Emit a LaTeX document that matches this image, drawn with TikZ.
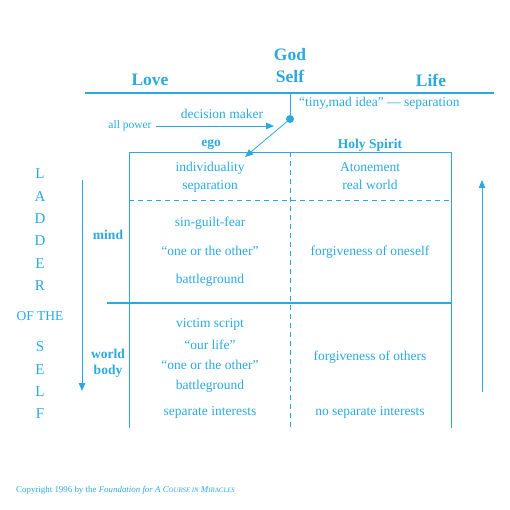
\documentclass[tikz,border=0pt]{standalone}
\usepackage{fontspec}
\setmainfont{Liberation Serif}
\usetikzlibrary{arrows.meta}
\definecolor{ladderBlue}{HTML}{29A9E0}

\begin{document}
\begin{tikzpicture}[
    x=1pt, y=-1pt,
    cell/.style={text=ladderBlue, font=\fontsize{13.5}{15}\selectfont, inner sep=0pt,
                 text height=0.98em, text depth=0.1em},
    head/.style={text=ladderBlue, font=\fontsize{17.5}{19}\selectfont\bfseries, inner sep=0pt},
    tag/.style={text=ladderBlue, font=\fontsize{13.5}{16}\selectfont\bfseries, inner sep=0pt, align=center},
    letter/.style={text=ladderBlue, font=\fontsize{15}{17}\selectfont, inner sep=0pt},
    small/.style={text=ladderBlue, font=\fontsize{11.5}{13}\selectfont, inner sep=0pt},
    rule/.style={draw=ladderBlue, line width=0.9pt},
    dashrule/.style={draw=ladderBlue, line width=0.8pt, dash pattern=on 5pt off 4pt},
    arrow/.style={-{Triangle[length=8pt,width=6.5pt]}, ladderBlue, line width=0.8pt}
  ]
    \useasboundingbox (0,0) rectangle (510,510);

    % top: God / Self and the level of Heaven
    \node[head] (god) at (290,55) {God};
    \node[head] (self) at (290,76) {Self};
    \node[head] (love) at (150,80) {Love};
    \node[head] (life) at (431,80) {Life};
    \draw[rule, line width=1.1pt] (85,93) -- (494,93);
    \coordinate (split) at (290,93);
    \node[cell, anchor=west] (tiny) at (299,102) {``tiny,mad idea'' --- separation};

    % decision maker
    \node[circle, fill=ladderBlue, inner sep=0pt, minimum size=8pt] (dot) at (290,119) {};
    \draw[rule] (split) -- (dot);
    \node[cell] (decision) at (222,114) {decision maker};
    \node[small] (power) at (130,126) {all power};
    \coordinate (powerTip) at (274,126);
    \draw[arrow, shorten <=4pt] (power) -- (powerTip);
    \coordinate (egoTip) at (245,157);
    \draw[arrow] (dot) -- (egoTip);

    % the two columns
    \node[tag] (ego) at (211,145) {ego};
    \node[tag] (spirit) at (370,145) {Holy Spirit};
    \draw[rule] (129,428) -- (129,152) -- (451,152) -- (451,428);
    \draw[dashrule] (290,152) -- (290,428);
    \draw[dashrule] (129,200) -- (451,200);
    \draw[rule, line width=2.4pt] (107,303) -- (451,303);

    % ego column
    \node[cell] (indiv) at (210,167) {individuality};
    \node[cell] (sepa) at (210,185) {separation};
    \node[cell] (sin) at (210,222) {sin-guilt-fear};
    \node[cell] (oneA) at (210,251) {``one or the other''};
    \node[cell] (battleA) at (210,279) {battleground};
    \node[cell] (victim) at (210,323) {victim script};
    \node[cell] (ourlife) at (210,345) {``our life''};
    \node[cell] (oneB) at (210,365) {``one or the other''};
    \node[cell] (battleB) at (210,385) {battleground};
    \node[cell] (sepint) at (210,411) {separate interests};

    % Holy Spirit column
    \node[cell] (atone) at (370,167) {Atonement};
    \node[cell] (real) at (370,185) {real world};
    \node[cell] (forgiveA) at (370,251) {forgiveness of oneself};
    \node[cell] (forgiveB) at (370,356) {forgiveness of others};
    \node[cell] (nosepint) at (370,411) {no separate interests};

    % levels
    \node[tag] (mind) at (108,235) {mind};
    \node[tag] (world) at (108,363) {world\\body};

    % ladder of the self
    \foreach \ch/\y [count=\i] in {L/174, A/197, D/219, D/241, E/264, R/286}
      \node[letter] (up\i) at (40,\y) {\ch};
    \node[cell] (ofthe) at (40,316) {OF THE};
    \foreach \ch/\y [count=\i] in {S/347, E/370, L/392, F/414}
      \node[letter] (down\i) at (40,\y) {\ch};
    \coordinate (downTop) at (82,180);
    \coordinate (downEnd) at (82,391);
    \draw[arrow] (downTop) -- (downEnd);
    \coordinate (upBottom) at (482,392);
    \coordinate (upEnd) at (482,180);
    \draw[arrow] (upBottom) -- (upEnd);

    % copyright line
    \node[text=ladderBlue, font=\fontsize{8.9}{10}\selectfont, inner sep=0pt, anchor=west] (copy) at (16,490)
      {Copyright 1996 by the \textit{Foundation for A C{\fontsize{6.8}{8}\selectfont OURSE IN} M{\fontsize{6.8}{8}\selectfont IRACLES}}};
\end{tikzpicture}
\end{document}
